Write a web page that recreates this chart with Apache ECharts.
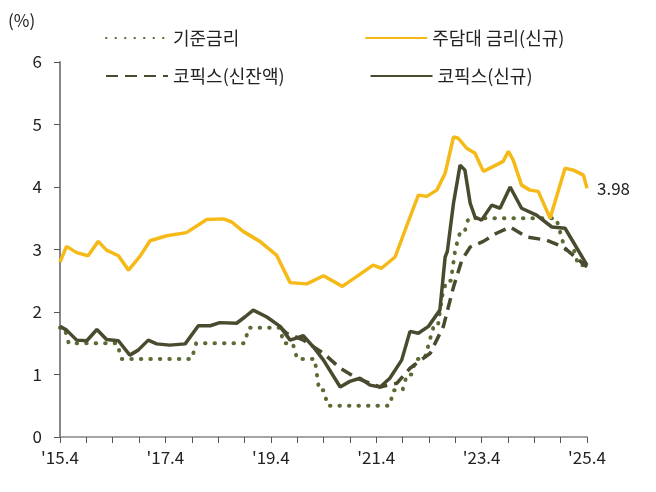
<!DOCTYPE html>
<html>
<head>
<meta charset="utf-8">
<script src="https://cdn.jsdelivr.net/npm/echarts@6/dist/echarts.min.js"></script>
<style>html,body{margin:0;padding:0;background:#fff}#chart{width:656px;height:492px}</style>
</head>
<body>
<div id="chart"></div>
<script>
// x = months since 2015.4
const xTickLabels = ["'15.4", "'17.4", "'19.4", "'21.4", "'23.4", "'25.4"]

// 기준금리 (month of change, new rate)
const baseRate = [
  [0,1.75],[2,1.5],[14,1.25],[31,1.5],[43,1.75],[51,1.5],[54,1.25],[59,0.75],[61,0.5],
  [76,0.75],[79,1.0],[81,1.25],[84,1.5],[85,1.75],[87,2.25],[88,2.5],[90,3.0],[91,3.25],
  [93,3.5],[114,3.25],[115,3.0],[118,2.75],[120,2.75]
]
// 주담대 금리(신규)
const mortgage = [
  [0,2.80],[1.5,3.05],[3.8,2.95],[6.4,2.90],[8.7,3.13],[10.6,2.99],[13.3,2.90],[15.6,2.67],
  [18.2,2.89],[20.5,3.14],[24.3,3.22],[28.8,3.27],[33.4,3.48],[37.2,3.49],[39.1,3.44],
  [41.7,3.29],[45.5,3.13],[49.3,2.91],[52.4,2.47],[56.2,2.45],[60,2.58],[64.3,2.41],
  [67.6,2.57],[71.3,2.75],[73.2,2.70],[76.3,2.88],[79.7,3.52],[81.6,3.87],[83.5,3.85],
  [85.8,3.95],[87.7,4.22],[89.6,4.80],[90.7,4.78],[92.6,4.62],[94.5,4.54],[96.4,4.25],
  [98.7,4.33],[100.9,4.41],[102.1,4.57],[103.2,4.43],[105.1,4.03],[107,3.95],[108.9,3.93],
  [111.6,3.50],[115,4.30],[116.9,4.27],[119.2,4.19],[120,3.98]
]
// 코픽스(신잔액)
const cofixBal = [
  [50,1.77],[51.6,1.66],[55.4,1.55],[60,1.34],[63.8,1.10],[67.6,0.94],[70.6,0.86],
  [72.9,0.80],[76.7,0.86],[79.7,1.10],[84.3,1.34],[87.3,1.77],[89.6,2.40],[91.5,2.83],
  [93.4,3.04],[96.4,3.13],[99.4,3.26],[102.5,3.36],[106.3,3.20],[110.8,3.15],[114.6,3.04],[120,2.72]
]
// 코픽스(신규)
const cofixNew = [
  [0,1.77],[1.5,1.71],[3.8,1.55],[6.1,1.54],[8.4,1.72],[10.6,1.56],[13.3,1.54],[15.9,1.31],
  [17.8,1.39],[20.1,1.55],[22,1.49],[25,1.47],[28.5,1.49],[31.5,1.78],[34.2,1.78],[36.4,1.83],
  [40.2,1.82],[42.1,1.92],[44,2.03],[47.1,1.92],[50.1,1.77],[52.4,1.55],[55.4,1.62],[57.7,1.44],
  [60,1.23],[63.8,0.80],[66,0.89],[68.3,0.94],[70.6,0.83],[72.9,0.80],[75.1,0.94],[77.8,1.23],
  [79.7,1.69],[81.6,1.66],[83.9,1.77],[86.5,2.03],[87.7,2.88],[88.2,2.97],[89.6,3.74],
  [91.1,4.35],[92.2,4.27],[93.4,3.74],[94.5,3.52],[96,3.47],[98.3,3.71],[100.2,3.66],
  [102.5,4.00],[105.1,3.66],[108.5,3.55],[112,3.36],[115,3.34],[120,2.75]
]

// monthly data: hold previous rate until the month before a change
const baseMonthly = []
baseRate.forEach((p, i) => {
  if (i > 0 && p[0] - 1 > baseRate[i - 1][0]) baseMonthly.push([p[0] - 1, baseRate[i - 1][1]])
  baseMonthly.push(p)
})

const chart = echarts.init(document.getElementById('chart'))
const font = 'Noto Sans CJK KR'
const cDark = '#4a4a2e', cOlive = '#5b6b35', cYellow = '#f5ba18'
const legendCommon = {
  itemWidth: 62, itemHeight: 4,
  itemStyle: { opacity: 0 },
  textStyle: { fontSize: 18, color: '#222', fontFamily: font }
}

chart.setOption({
  animation: false,
  textStyle: { fontFamily: font },
  grid: { left: 60, right: 69, top: 62, bottom: 55 },
  legend: [
    Object.assign({ top: 24, left: 100, itemGap: 125, data: ['기준금리', '주담대 금리(신규)'] }, legendCommon),
    Object.assign({ top: 62, left: 100, itemGap: 85, data: ['코픽스(신잔액)', '코픽스(신규)'] }, legendCommon)
  ],
  graphic: [{ type: 'text', left: 8, top: 12, style: { text: '(%)', fontSize: 17, fill: '#222', fontFamily: font } }],
  xAxis: {
    type: 'value', min: 0, max: 120, interval: 6,
    axisLine: { lineStyle: { color: '#888', width: 1.5 } },
    axisTick: { show: true, length: 6, lineStyle: { color: '#555' } },
    splitLine: { show: false },
    axisLabel: {
      fontSize: 17, color: '#222', margin: 12,
      formatter: v => v % 24 === 0 ? xTickLabels[v / 24] : ''
    }
  },
  yAxis: {
    type: 'value', min: 0, max: 6, interval: 1,
    axisLine: { show: true, lineStyle: { color: '#888', width: 2 } },
    axisTick: { show: true, length: 6, lineStyle: { color: '#555' } },
    splitLine: { show: false },
    axisLabel: { fontSize: 17, color: '#222', margin: 18 }
  },
  series: [
    { name: '기준금리', type: 'line', data: baseMonthly, symbol: 'none',
      lineStyle: { color: cOlive, width: 4, type: [0.5, 9], cap: 'round' }, itemStyle: { color: cOlive } },
    { name: '주담대 금리(신규)', type: 'line', data: mortgage, symbol: 'none',
      lineStyle: { color: cYellow, width: 3.5 }, itemStyle: { color: cYellow },
      endLabel: { show: true, formatter: p => p.value[1].toFixed(2), fontSize: 17, color: '#222', distance: 10 } },
    { name: '코픽스(신잔액)', type: 'line', data: cofixBal, symbol: 'none',
      lineStyle: { color: cDark, width: 3.5, type: [12, 7] }, itemStyle: { color: cDark } },
    { name: '코픽스(신규)', type: 'line', data: cofixNew, symbol: 'none',
      lineStyle: { color: cDark, width: 3.5 }, itemStyle: { color: cDark } }
  ]
})
</script>
</body>
</html>
